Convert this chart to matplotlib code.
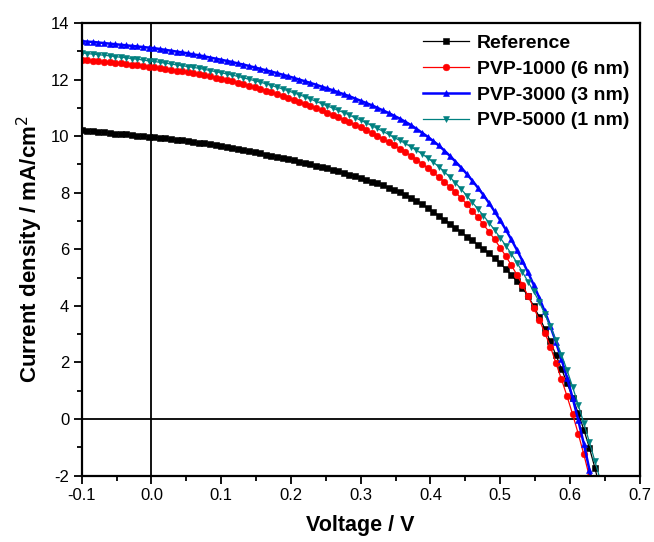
import numpy as np
import matplotlib
matplotlib.use("Agg")
import matplotlib.pyplot as plt
from matplotlib.ticker import MultipleLocator

plt.rcParams['font.family'] = ['Liberation Sans', 'DejaVu Sans']
plt.rcParams['axes.unicode_minus'] = False

# Voltage sweep: start and step of the measured grid (V)
V_START = -0.1
V_STEP = 0.008

labels = ["Reference", "PVP-1000 (6 nm)", "PVP-3000 (3 nm)", "PVP-5000 (1 nm)"]

j_reference = [10.20, 10.18, 10.17, 10.15, 10.13, 10.11, 10.09, 10.08, 10.06, 10.04, 10.02, 10.00, 9.98, 9.96,
               9.94, 9.92, 9.89, 9.87, 9.85, 9.82, 9.79, 9.76, 9.74, 9.71, 9.68, 9.65,
               9.61, 9.58, 9.54, 9.50, 9.47, 9.43, 9.39, 9.35, 9.31, 9.27, 9.23, 9.18, 9.14,
               9.09, 9.04, 9.00, 8.95, 8.90, 8.86, 8.80, 8.75, 8.69, 8.64, 8.58, 8.52,
               8.46, 8.39, 8.33, 8.26, 8.18, 8.10, 8.02,
               7.92, 7.82, 7.71, 7.59, 7.46, 7.33,
               7.19, 7.05, 6.91, 6.76, 6.61, 6.45,
               6.31, 6.16, 6.01, 5.85, 5.68, 5.50, 5.31, 5.10, 4.87, 4.62, 4.35,
               4.00, 3.61, 3.19, 2.74, 2.26, 1.77, 1.27, 0.75, 0.20, -0.38, -1.02, -1.74, -2.54]

j_pvp1000 = [12.70, 12.68, 12.67, 12.65, 12.63, 12.61, 12.59, 12.57, 12.55, 12.53, 12.51, 12.48, 12.46, 12.44,
             12.41, 12.38, 12.35, 12.32, 12.29, 12.26, 12.23, 12.19, 12.15, 12.11, 12.07, 12.03, 11.99, 11.94,
             11.89, 11.84, 11.79,
             11.73, 11.67, 11.61, 11.55, 11.49, 11.42, 11.35, 11.28, 11.21, 11.14, 11.07, 10.99, 10.91, 10.83, 10.75,
             10.67, 10.58, 10.49, 10.40, 10.31, 10.21, 10.11, 10.01, 9.90, 9.79, 9.68,
             9.56, 9.44, 9.31, 9.17, 9.03, 8.88, 8.72, 8.55, 8.38, 8.20, 8.01, 7.81, 7.60,
             7.37, 7.13, 6.88, 6.62, 6.35, 6.06,
             5.76, 5.44, 5.10, 4.74, 4.35, 3.94, 3.51, 3.05, 2.56,
             1.98, 1.40, 0.80, 0.16, -0.52, -1.25, -2.04, -2.90]

j_pvp3000 = [13.36, 13.34, 13.33, 13.31, 13.29, 13.27, 13.25, 13.23, 13.21, 13.19, 13.17, 13.15, 13.13, 13.11,
             13.08, 13.05, 13.02, 12.99, 12.96, 12.93, 12.89, 12.86, 12.82, 12.78, 12.74, 12.70, 12.66, 12.62,
             12.57, 12.53, 12.48,
             12.43, 12.38, 12.33, 12.28, 12.23, 12.17, 12.12, 12.06, 12.00, 11.94, 11.88, 11.82, 11.75, 11.69, 11.62,
             11.55, 11.48, 11.41, 11.33, 11.25, 11.17, 11.09, 11.00, 10.91, 10.82, 10.72,
             10.62, 10.51, 10.39, 10.26, 10.12, 9.98, 9.83, 9.67, 9.49, 9.30,
             9.10, 8.89, 8.67, 8.43, 8.18, 7.92, 7.64, 7.34, 7.03, 6.70, 6.35, 5.98,
             5.59, 5.18, 4.75, 4.29, 3.80, 3.28, 2.72, 2.11, 1.45, 0.74, -0.04, -0.88, -1.79, -2.77]

j_pvp5000 = [12.94, 12.92, 12.90, 12.88, 12.86, 12.84, 12.81, 12.79, 12.77, 12.74, 12.72, 12.69, 12.66, 12.64,
             12.61, 12.58, 12.55, 12.52, 12.49, 12.46, 12.43, 12.40, 12.36, 12.32, 12.28, 12.24, 12.20, 12.16,
             12.11, 12.06, 12.01,
             11.96, 11.91, 11.85, 11.79, 11.73, 11.67, 11.60, 11.53, 11.46, 11.39, 11.31, 11.23, 11.15, 11.07, 10.99,
             10.91, 10.83, 10.74, 10.65, 10.56, 10.47, 10.37, 10.27, 10.17, 10.06, 9.95,
             9.85, 9.74, 9.62, 9.50, 9.37, 9.23, 9.08, 8.92, 8.74, 8.55,
             8.35, 8.13, 7.90, 7.66,
             7.43, 7.19, 6.94, 6.68, 6.41, 6.13, 5.84, 5.53, 5.20, 4.85,
             4.52, 4.14, 3.72, 3.27, 2.79, 2.27, 1.72, 1.13, 0.50, -0.15, -0.82, -1.50, -2.19, -2.89]

x_ticks = [-0.1, 0.0, 0.1, 0.2, 0.3, 0.4, 0.5, 0.6, 0.7]
x_tick_labels = ["-0.1", "0.0", "0.1", "0.2", "0.3", "0.4", "0.5", "0.6", "0.7"]
y_ticks = [-2, 0, 2, 4, 6, 8, 10, 12, 14]

series = [j_reference, j_pvp1000, j_pvp3000, j_pvp5000]
styles = [
    dict(color='black', marker='s', ms=4.2, lw=0.9),
    dict(color='#ff0000', marker='o', ms=4.8, lw=0.9),
    dict(color='#0000ff', marker='^', ms=4.8, lw=1.8),
    dict(color='#008080', marker='v', ms=5.0, lw=0.9),
]

W, H = 654, 542
fig = plt.figure(figsize=(W / 100, H / 100), dpi=100)
ax = fig.add_axes([81.7 / W, 1 - 475.5 / H, (639.6 - 81.7) / W, (475.5 - 23.0) / H])

for j, lab, st in zip(series, labels, styles):
    v = V_START + V_STEP * np.arange(len(j))
    ax.plot(v, j, label=lab, color=st['color'], marker=st['marker'], ms=st['ms'],
            lw=st['lw'], mec=st['color'], mew=0.4, clip_on=True)

ax.axhline(0, color='black', lw=1.3, zorder=0.5)
ax.axvline(0, color='black', lw=1.3, zorder=0.5)

ax.set_xlim(-0.1, 0.7)
ax.set_ylim(-2, 14)
ax.set_xticks(x_ticks)
ax.set_xticklabels(x_tick_labels)
ax.set_yticks(y_ticks)
ax.xaxis.set_minor_locator(MultipleLocator(0.05))
ax.yaxis.set_minor_locator(MultipleLocator(1))
ax.tick_params(which='major', direction='out', length=6, width=1.3, labelsize=12, pad=3,
               top=False, right=False)
ax.tick_params(which='minor', direction='out', length=3.5, width=1.3, top=False, right=False)
for s in ax.spines.values():
    s.set_linewidth(1.6)

ax.set_xlabel("Voltage / V", fontsize=15.5, fontweight='bold')
ax.set_ylabel("Current density / mA/cm$^2$", fontsize=16, fontweight='bold')
ax.xaxis.set_label_coords(0.5, -0.088)
ax.yaxis.set_label_coords(-0.066, 0.5)

leg = ax.legend(loc='upper left', bbox_to_anchor=(422.7 / W, 1 - 34.5 / H),
                bbox_transform=fig.transFigure, frameon=False, borderpad=0, borderaxespad=0,
                handlelength=2.4, handletextpad=0.4, labelspacing=0.42,
                prop=dict(size=14, weight='bold'))

fig.savefig("out.png", dpi=100)
